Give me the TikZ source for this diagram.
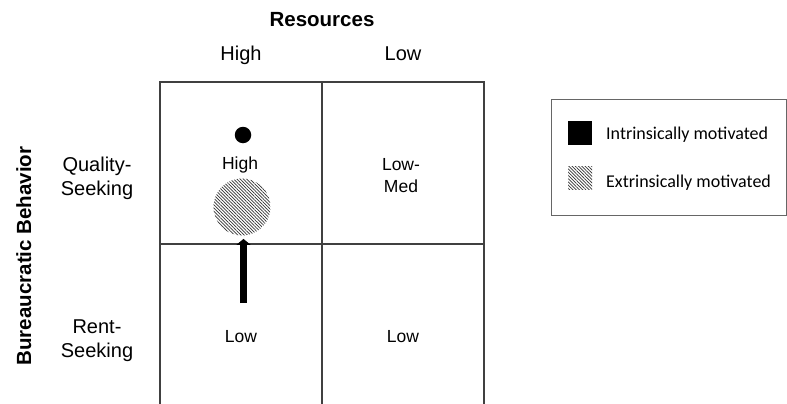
\documentclass[tikz,border=0pt]{standalone}
\usepackage{fontspec}
\setmainfont{Liberation Sans}
\newfontfamily\legendfont{Carlito}
\usepackage{tikz}
\usetikzlibrary{arrows.meta}
\usetikzlibrary{patterns.meta}
\tikzset{
  axistitle/.style={font=\bfseries\fontsize{20.5}{24}\selectfont, anchor=base, inner sep=0pt},
  axislevel/.style={font=\fontsize{20}{24}\selectfont, anchor=base, align=center, inner sep=0pt},
  cellval/.style={font=\fontsize{17.5}{22}\selectfont, anchor=base, align=center, inner sep=0pt},
  legendtext/.style={font=\legendfont\fontsize{18}{22}\selectfont, anchor=base west, inner sep=0pt},
  gridline/.style={line width=1.2pt, black!75},
  hatch/.style={pattern={Lines[angle=-45,distance=2.3pt,line width=0.75pt]}, pattern color=black!80}
}
\newcommand{\cellval}[4]{\node[cellval] (#1) at (#2,#3) {#4};}
\begin{document}
\begin{tikzpicture}[x=1pt,y=-1pt]
  \useasboundingbox (0,0) rectangle (787,404);
  % axis titles
  \node[axistitle] (resources) at (322,27) {Resources};
  \node[axistitle, rotate=90] (behavior) at (31,256) {Bureaucratic Behavior};
  \node[axislevel] (colhigh) at (241,61) {High};
  \node[axislevel] (collow) at (403,61) {Low};
  \node[axislevel] (rowquality) at (97,195) {Quality-\\Seeking};
  \node[axislevel] (rowrent) at (97,357) {Rent-\\Seeking};
  % grid
  \draw[gridline] (160,404) -- (160,82) -- (484,82) -- (484,404);
  \draw[gridline] (322,82) -- (322,404);
  \draw[gridline] (160,244) -- (484,244);
  % cells
  \cellval{hh}{240}{169}{High}
  \cellval{lh}{401}{192}{Low-\\Med}
  \cellval{hl}{241}{342}{Low}
  \cellval{ll}{403}{342}{Low}
  % markers
  \node[circle, fill=black, inner sep=0pt, minimum size=16.5pt] (intr) at (243,135) {};
  \node[circle, hatch, inner sep=0pt, minimum size=57pt] (extr) at (242,207) {};
  \coordinate (shift) at (243.5,303);
  \draw[line width=7pt, -{Triangle[width=14pt,length=6pt]}, shorten >=3pt] (shift) -- (shift |- extr.south);
  % legend
  \draw[line width=1pt, black!60] (551,99) rectangle (786,215);
  \node[draw=none, fill=black, inner sep=0pt, minimum width=24pt, minimum height=24pt] (keyintr) at (580,133) {};
  \node[hatch, inner sep=0pt, minimum width=24pt, minimum height=23pt] (keyextr) at (580,177.5) {};
  \node[legendtext] (labintr) at (606,139) {Intrinsically motivated};
  \node[legendtext] (labextr) at (606,187) {Extrinsically motivated};
\end{tikzpicture}
\end{document}
